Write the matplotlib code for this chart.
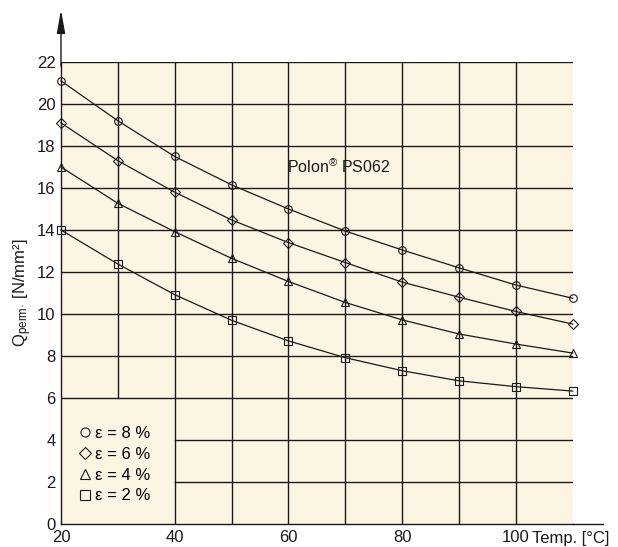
import matplotlib
matplotlib.use("Agg")
import matplotlib.pyplot as plt
from matplotlib.lines import Line2D

plt.rcParams.update({
    "font.family": ["Liberation Sans", "DejaVu Sans"],
    "mathtext.fontset": "custom",
    "mathtext.rm": "Liberation Sans",
    "mathtext.it": "Liberation Sans",
})

BG = "#FDF5E3"
INK = "#1a1a1a"

temps = [20, 30, 40, 50, 60, 70, 80, 90, 100, 110]
q_eps8 = [21.1, 19.2, 17.5, 16.15, 15.0, 13.95, 13.05, 12.2, 11.38, 10.75]
q_eps6 = [19.1, 17.3, 15.8, 14.48, 13.4, 12.45, 11.52, 10.8, 10.12, 9.52]
q_eps4 = [17.0, 15.27, 13.92, 12.65, 11.55, 10.55, 9.72, 9.05, 8.57, 8.14]
q_eps2 = [14.0, 12.38, 10.92, 9.7, 8.72, 7.92, 7.3, 6.82, 6.54, 6.33]

series = [
    (q_eps8, "o", "ε = 8 %"),
    (q_eps6, "D", "ε = 6 %"),
    (q_eps4, "^", "ε = 4 %"),
    (q_eps2, "s", "ε = 2 %"),
]
marker_size = {"o": 5.5, "D": 5.5, "^": 5.5, "s": 6}

fig = plt.figure(figsize=(6.18, 5.47), dpi=100)
ax = fig.add_axes([0.0987, 0.042, 0.828, 0.8447])
ax.set_facecolor(BG)
ax.set_xlim(20, 110)
ax.set_ylim(0, 22)

# grid, left-bottom corner kept free for the legend
for x in range(30, 110, 10):
    y0 = 6 if x == 30 else 0
    ax.plot([x, x], [y0, 22], color=INK, lw=1.0, zorder=1)
for y in range(2, 23, 2):
    x0 = 40 if y < 6 else 20
    ax.plot([x0, 110], [y, y], color=INK, lw=1.0, zorder=1)

for vals, mk, lab in series:
    ax.plot(temps, vals, color=INK, lw=0.9, marker=mk,
            markersize=marker_size[mk], markerfacecolor="none",
            markeredgecolor=INK, markeredgewidth=0.8, zorder=3,
            clip_on=False)

ax.text(59.8, 17.0, "Polon$^{®}$ PS062", fontsize=11.5, va="center",
        ha="left", color=INK)

# spines / arrow axis
for s in ["top", "right"]:
    ax.spines[s].set_visible(False)
ax.spines["left"].set_color(INK)
ax.spines["bottom"].set_color(INK)
ax.spines["left"].set_linewidth(1.0)
ax.spines["bottom"].set_linewidth(1.0)
ax.annotate("", xy=(0.0, 1.0 + 52 / 462), xycoords="axes fraction",
            xytext=(0.0, 0.99), textcoords="axes fraction",
            arrowprops=dict(arrowstyle="-|>,head_length=1.0,head_width=0.18",
                            color=INK, lw=1.0, mutation_scale=14,
                            shrinkA=0, shrinkB=0))
ax.plot([110, 115.4], [0, 0], color=INK, lw=1.0, clip_on=False)

ax.set_xticks([20, 40, 60, 80, 100])
ax.set_yticks(range(0, 23, 2))
ax.tick_params(length=0, labelsize=12, colors=INK, pad=4)
ax.text(102.9, -0.67, "Temp. [°C]", fontsize=12, ha="left", va="center",
        color=INK)
ax.set_ylabel("Q$_{\\mathrm{perm\u00b7}}$ [N/mm²]", fontsize=12,
              color=INK, labelpad=2)

handles = [Line2D([], [], ls="none", marker=mk, markersize=marker_size[mk] + 1,
                  markerfacecolor="none", markeredgecolor=INK,
                  markeredgewidth=0.8) for _, mk, _ in series]
ax.legend(handles, [lab for _, _, lab in series], loc="lower left",
          bbox_to_anchor=(0.025, 0.03), frameon=False, fontsize=12,
          handlelength=0.6, handletextpad=0.3, labelspacing=0.35,
          borderaxespad=0)

fig.savefig("out.png", dpi=100)
